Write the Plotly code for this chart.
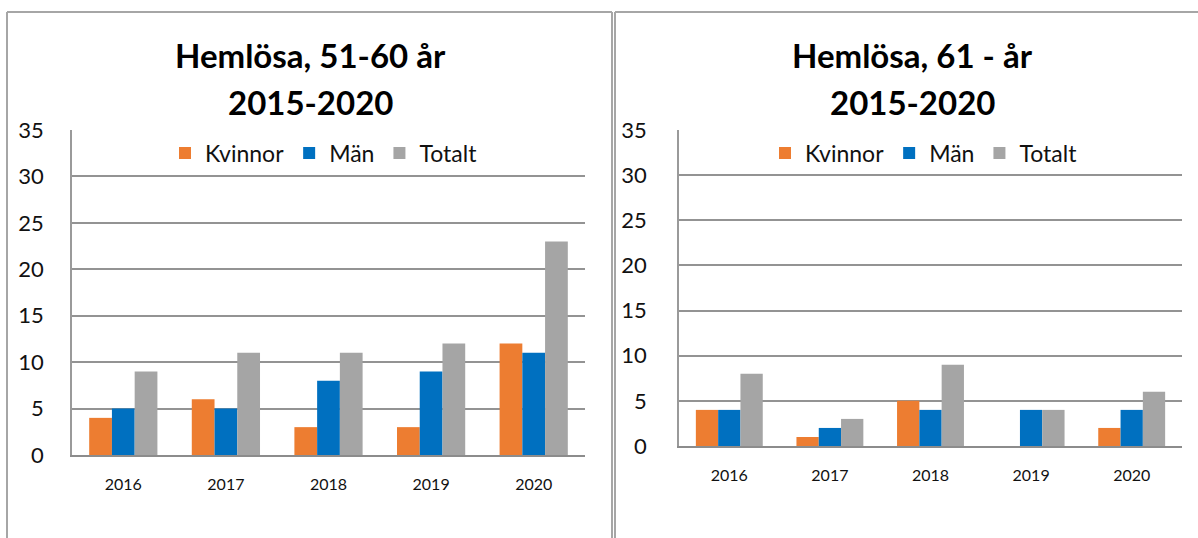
import plotly.graph_objects as go

# ---- data ----
years = ["2016", "2017", "2018", "2019", "2020"]
series_names = ["Kvinnor", "Män", "Totalt"]

kvinnor_51_60 = [4, 6, 3, 3, 12]
man_51_60 = [5, 5, 8, 9, 11]
totalt_51_60 = [9, 11, 11, 12, 23]

kvinnor_61 = [4, 1, 5, 0, 2]
man_61 = [4, 2, 4, 4, 4]
totalt_61 = [8, 3, 9, 4, 6]

title_left = ["Hemlösa, 51-60 år", "2015-2020"]
title_right = ["Hemlösa, 61 - år", "2015-2020"]

colors = ["#ED7D31", "#0070C0", "#A5A5A5"]

# ---- layout helpers ----
W, H = 1198, 538
def px(x):
    return x / W
def py(y):
    return 1 - y / H

FONT = "Lato, 'Open Sans', 'DejaVu Sans', sans-serif"
GRID = "#939393"

fig = go.Figure()

left_vals = [kvinnor_51_60, man_51_60, totalt_51_60]
right_vals = [kvinnor_61, man_61, totalt_61]

for name, vals, c in zip(series_names, left_vals, colors):
    fig.add_trace(go.Bar(x=years, y=vals, name=name, marker_color=c,
                         marker_line_width=0, xaxis="x", yaxis="y",
                         legend="legend"))
for name, vals, c in zip(series_names, right_vals, colors):
    fig.add_trace(go.Bar(x=years, y=vals, name=name, marker_color=c,
                         marker_line_width=0, xaxis="x2", yaxis="y2",
                         legend="legend2"))

xcommon = dict(type="category", showgrid=False, showline=True, linecolor="#8c8c8c",
               linewidth=2, ticks="", tickfont=dict(family=FONT, size=16, color="#111"),
               ticklabelstandoff=14, automargin=False, fixedrange=True)
ycommon = dict(range=[0, 35], dtick=5, tick0=0, showgrid=True, gridcolor=GRID, gridwidth=2,
               showline=True, linecolor="#9a9a9a", linewidth=1.5, zeroline=False, ticks="",
               tickfont=dict(family=FONT, size=22, color="#111"),
               automargin=False, fixedrange=True)

legend_font = dict(family=FONT, size=23, color="#111")

fig.update_layout(
    width=W, height=H,
    margin=dict(l=0, r=0, t=0, b=0),
    paper_bgcolor="white", plot_bgcolor="white",
    font=dict(family=FONT, color="#111"),
    barmode="group", bargap=0.335, bargroupgap=0,
    xaxis=dict(domain=[px(72), px(585)], anchor="y", **xcommon),
    yaxis=dict(domain=[py(455), py(130)], anchor="x", ticklabelstandoff=22, **ycommon),
    xaxis2=dict(domain=[px(679), px(1182)], anchor="y2", **xcommon),
    yaxis2=dict(domain=[py(446), py(130)], anchor="x2", ticklabelstandoff=26, **ycommon),
    legend=dict(orientation="h", x=px(324), y=py(153), xanchor="center", yanchor="middle",
                font=legend_font, bgcolor="rgba(0,0,0,0)",
                itemwidth=30, traceorder="normal"),
    legend2=dict(orientation="h", x=px(924), y=py(153), xanchor="center", yanchor="middle",
                 font=legend_font, bgcolor="rgba(0,0,0,0)",
                 itemwidth=30, traceorder="normal"),
    showlegend=True,
)

# titles
for (lines, cx) in [(title_left, 310), (title_right, 912)]:
    for txt, cy in zip(lines, [55, 102]):
        fig.add_annotation(text="<b>" + txt + "</b>", x=px(cx), y=py(cy), xref="paper", yref="paper",
                           xanchor="center", yanchor="middle", showarrow=False,
                           font=dict(family=FONT, size=33, color="#000"))

# panel borders
BORDER = "#a6a6a6"
for (x0, y0, x1, y1) in [(7, 12, 612, 12), (7, 12, 7, 538), (612, 12, 612, 538),
                         (615, 12, 1198, 12), (615, 12, 615, 538)]:
    fig.add_shape(type="line", xref="paper", yref="paper",
                  x0=px(x0), y0=py(y0), x1=px(x1), y1=py(y1),
                  line=dict(color=BORDER, width=2))

fig.write_html("out.html", config={"displayModeBar": False},
               post_script="document.body.style.margin='0';document.body.style.overflow='hidden';")
